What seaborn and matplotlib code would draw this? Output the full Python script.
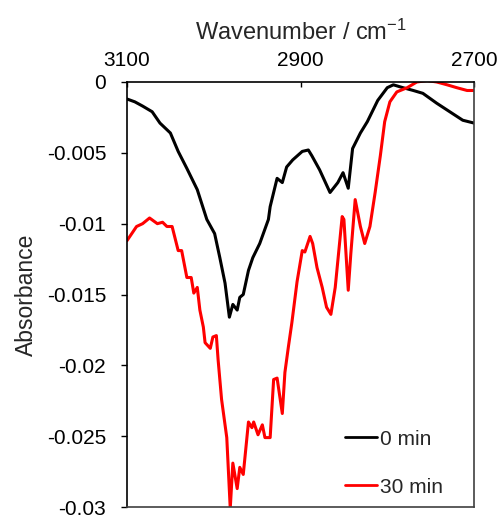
import numpy as np
import pandas as pd
import matplotlib
matplotlib.use("Agg")
import matplotlib.pyplot as plt
import seaborn as sns
from matplotlib.ticker import FixedLocator

# ---- data ----
wn_0min = [3100, 3091, 3082, 3071, 3062, 3050, 3041, 3031, 3019, 3008, 2999, 2993,
           2987, 2982, 2978, 2973, 2970, 2966, 2960, 2955, 2947, 2937, 2935, 2927,
           2921, 2916, 2909, 2898, 2891, 2887, 2878, 2866, 2857, 2851, 2845, 2840,
           2831, 2823, 2811, 2800, 2793, 2782, 2770, 2759, 2743, 2728, 2713, 2700]
abs_0min = [-0.0012, -0.0014, -0.0017, -0.0021, -0.0029, -0.0036, -0.0049, -0.0061,
            -0.0076, -0.0097, -0.0107, -0.0124, -0.0142, -0.0166, -0.0157, -0.0161,
            -0.0152, -0.0150, -0.0133, -0.0124, -0.0114, -0.0097, -0.0088, -0.0068,
            -0.0071, -0.0060, -0.0055, -0.0049, -0.0048, -0.0052, -0.0062, -0.0078,
            -0.0071, -0.0064, -0.0075, -0.0047, -0.0036, -0.0028, -0.0013, -0.0004,
            -0.0002, -0.0004, -0.0006, -0.0008, -0.0015, -0.0021, -0.0027, -0.0029]

wn_30min = [3100, 3089, 3082, 3074, 3065, 3059, 3054, 3048, 3041, 3037, 3031, 3026,
            3023, 3019, 3016, 3012, 3010, 3007, 3004, 3001, 2997, 2995, 2991, 2985,
            2981, 2978, 2973, 2970, 2966, 2960, 2956, 2954, 2949, 2944, 2941, 2935,
            2931, 2927, 2921, 2918, 2914, 2910, 2904, 2898, 2895, 2889, 2886, 2881,
            2875, 2870, 2865, 2860, 2852, 2850, 2845, 2842, 2837, 2831, 2826, 2820,
            2814, 2808, 2803, 2797, 2789, 2777, 2766, 2754, 2743, 2731, 2720, 2708, 2700]
abs_30min = [-0.0112, -0.0102, -0.0100, -0.0096, -0.0100, -0.0099, -0.0102, -0.0102,
             -0.0119, -0.0119, -0.0138, -0.0138, -0.0149, -0.0145, -0.0161, -0.0173,
             -0.0184, -0.0186, -0.0188, -0.0180, -0.0179, -0.0196, -0.0224, -0.0251,
             -0.0301, -0.0269, -0.0287, -0.0272, -0.0277, -0.0240, -0.0244, -0.0240,
             -0.0249, -0.0242, -0.0251, -0.0251, -0.0210, -0.0209, -0.0234, -0.0205,
             -0.0187, -0.0170, -0.0141, -0.0119, -0.0120, -0.0109, -0.0114, -0.0131,
             -0.0145, -0.0159, -0.0164, -0.0145, -0.0095, -0.0097, -0.0147, -0.0121,
             -0.0083, -0.0102, -0.0114, -0.0102, -0.0078, -0.0052, -0.0028, -0.0014,
             -0.0007, -0.0004, 0.0000, 0.0001, 0.0000, -0.0002, -0.0004, -0.0006, -0.0006]

series_names = ["0 min", "30 min"]
series_colors = ["#000000", "#ff0000"]
x_ticks = [3100, 2900, 2700]
y_ticks = [0, -0.005, -0.01, -0.015, -0.02, -0.025, -0.03]
y_tick_labels = ["0", "-0.005", "-0.01", "-0.015", "-0.02", "-0.025", "-0.03"]

df = pd.concat([
    pd.DataFrame({"wn": wn_0min, "abs": abs_0min, "series": series_names[0]}),
    pd.DataFrame({"wn": wn_30min, "abs": abs_30min, "series": series_names[1]}),
], ignore_index=True)

sns.set_style("ticks")
plt.rcParams["font.family"] = ["Liberation Sans", "DejaVu Sans"]
plt.rcParams["mathtext.default"] = "regular"
plt.rcParams["axes.unicode_minus"] = False

fig = plt.figure(figsize=(4.99, 5.16), dpi=100)
ax = fig.add_axes([0.2545, 0.0174, 0.6955, 0.8237])

sns.lineplot(data=df, x="wn", y="abs", hue="series", hue_order=series_names,
             palette=series_colors, estimator=None, sort=False, linewidth=2.2,
             ax=ax)

ax.set_xlim(3100, 2700)
ax.set_ylim(-0.03, 0)
ax.xaxis.tick_top()
ax.xaxis.set_label_position("top")
ax.xaxis.set_major_locator(FixedLocator(x_ticks))
ax.yaxis.set_major_locator(FixedLocator(y_ticks))
ax.set_yticklabels(y_tick_labels)
ax.tick_params(axis="x", direction="in", length=3.5, width=1, labelsize=15, pad=8.5, colors="black")
ax.tick_params(axis="y", direction="out", length=4.5, width=1, labelsize=15, pad=10.5, colors="black")
ax.set_xlabel("Wavenumber / cm$^{-1}$", fontsize=17, labelpad=8)
ax.set_ylabel("Absorbance", fontsize=16.5, labelpad=6)

for side in ["top", "left"]:
    ax.spines[side].set_color("black")
    ax.spines[side].set_linewidth(1.2)
for side in ["right", "bottom"]:
    ax.spines[side].set_visible(True)
    ax.spines[side].set_color("#404040")
    ax.spines[side].set_linewidth(1.2)

leg = ax.legend(loc="lower right", bbox_to_anchor=(0.964, -0.02), frameon=False,
                fontsize=15, handlelength=1.5, handletextpad=0.15,
                labelspacing=1.4)
for line in leg.get_lines():
    line.set_linewidth(2.0)

fig.savefig("out.png", dpi=100)
